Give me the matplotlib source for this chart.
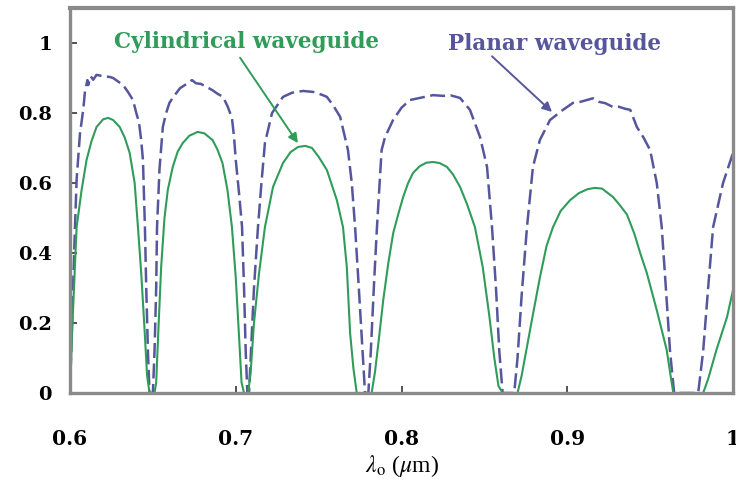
import matplotlib
matplotlib.use("Agg")
import matplotlib.pyplot as plt

# Cylindrical waveguide transmission vs wavelength
cyl_wl = [0.600, 0.6015, 0.604, 0.607, 0.610, 0.613, 0.616, 0.620, 0.623, 0.626,
          0.630, 0.633, 0.636, 0.639, 0.641, 0.643, 0.645, 0.6465, 0.648, 0.651,
          0.652, 0.6535, 0.655, 0.657, 0.659, 0.662, 0.665, 0.668, 0.672, 0.677,
          0.681, 0.686, 0.689, 0.692, 0.695, 0.6977, 0.700, 0.702, 0.7035, 0.705,
          0.7075, 0.709, 0.711, 0.714, 0.7176, 0.7225, 0.7285, 0.733, 0.7376, 0.742,
          0.746, 0.750, 0.755, 0.761, 0.7647, 0.767, 0.769, 0.771, 0.773, 0.782,
          0.784, 0.786, 0.789, 0.792, 0.795, 0.798, 0.801, 0.804, 0.807, 0.811,
          0.815, 0.819, 0.823, 0.8274, 0.831, 0.8353, 0.8395, 0.8443, 0.849, 0.853,
          0.856, 0.8585, 0.861, 0.870, 0.8725, 0.876, 0.879, 0.8835, 0.8875, 0.8914,
          0.896, 0.9017, 0.907, 0.912, 0.9165, 0.921, 0.9276, 0.932, 0.936, 0.9405,
          0.944, 0.948, 0.951, 0.954, 0.957, 0.960, 0.962, 0.964, 0.982, 0.985,
          0.990, 0.9964, 1.000]
cyl_t = [0.00, 0.20, 0.474, 0.58, 0.666, 0.72, 0.76, 0.782, 0.786, 0.78,
         0.76, 0.73, 0.686, 0.60, 0.474, 0.34, 0.18, 0.05, 0.00, 0.00,
         0.03, 0.20, 0.36, 0.50, 0.58, 0.646, 0.69, 0.714, 0.735, 0.746,
         0.742, 0.723, 0.695, 0.657, 0.58, 0.474, 0.33, 0.16, 0.03, 0.00,
         0.00, 0.06, 0.20, 0.34, 0.474, 0.589, 0.657, 0.688, 0.703, 0.706,
         0.700, 0.675, 0.637, 0.551, 0.474, 0.36, 0.171, 0.07, 0.00, 0.00,
         0.06, 0.14, 0.266, 0.37, 0.457, 0.51, 0.56, 0.60, 0.629, 0.648,
         0.658, 0.660, 0.657, 0.646, 0.625, 0.589, 0.54, 0.474, 0.36, 0.22,
         0.10, 0.02, 0.00, 0.00, 0.05, 0.14, 0.217, 0.33, 0.42, 0.474,
         0.52, 0.551, 0.571, 0.582, 0.586, 0.584, 0.56, 0.535, 0.51, 0.455,
         0.40, 0.343, 0.29, 0.237, 0.18, 0.123, 0.06, 0.00, 0.00, 0.04,
         0.123, 0.217, 0.294]

# Planar waveguide transmission vs wavelength
pla_wl = [0.600, 0.6015, 0.603, 0.604, 0.606, 0.608, 0.609, 0.6105, 0.611, 0.6125,
          0.614, 0.616, 0.620, 0.624, 0.626, 0.629, 0.632, 0.635, 0.638, 0.640,
          0.6416, 0.643, 0.644, 0.6452, 0.646, 0.647, 0.648, 0.650, 0.651, 0.652,
          0.6525, 0.654, 0.656, 0.658, 0.660, 0.663, 0.6664, 0.670, 0.6736, 0.676,
          0.679, 0.6826, 0.686, 0.689, 0.6923, 0.695, 0.6977, 0.699, 0.700, 0.702,
          0.7038, 0.705, 0.706, 0.707, 0.708, 0.709, 0.711, 0.7134, 0.7155, 0.7176,
          0.7219, 0.7285, 0.734, 0.7406, 0.747, 0.752, 0.755, 0.759, 0.763, 0.7677,
          0.770, 0.772, 0.774, 0.7765, 0.778, 0.780, 0.7815, 0.7835, 0.7852, 0.788,
          0.790, 0.7949, 0.800, 0.805, 0.8112, 0.815, 0.819, 0.825, 0.830, 0.8353,
          0.8413, 0.8474, 0.8516, 0.8546, 0.857, 0.859, 0.861, 0.868, 0.870, 0.8725,
          0.8757, 0.8793, 0.8835, 0.8896, 0.8974, 0.9035, 0.908, 0.9125, 0.9155, 0.919,
          0.923, 0.9276, 0.931, 0.935, 0.938, 0.942, 0.946, 0.950, 0.954, 0.957,
          0.9595, 0.962, 0.9645, 0.979, 0.982, 0.985, 0.988, 0.994, 1.000]
pla_t = [0.00, 0.25, 0.474, 0.61, 0.74, 0.81, 0.86, 0.894, 0.88, 0.905,
         0.895, 0.909, 0.905, 0.903, 0.90, 0.89, 0.88, 0.86, 0.837, 0.80,
         0.774, 0.72, 0.666, 0.474, 0.30, 0.12, 0.00, 0.00, 0.12, 0.30,
         0.474, 0.64, 0.76, 0.80, 0.829, 0.85, 0.871, 0.882, 0.894, 0.885,
         0.883, 0.874, 0.865, 0.855, 0.846, 0.82, 0.786, 0.73, 0.666, 0.57,
         0.474, 0.30, 0.12, 0.00, 0.00, 0.10, 0.30, 0.474, 0.60, 0.714,
         0.80, 0.846, 0.858, 0.863, 0.86, 0.852, 0.846, 0.82, 0.789, 0.694,
         0.60, 0.474, 0.32, 0.12, 0.00, 0.00, 0.12, 0.32, 0.474, 0.694,
         0.73, 0.78, 0.815, 0.837, 0.843, 0.847, 0.851, 0.849, 0.85, 0.843,
         0.809, 0.731, 0.646, 0.474, 0.30, 0.12, 0.00, 0.00, 0.10, 0.28,
         0.474, 0.646, 0.723, 0.78, 0.809, 0.829, 0.832, 0.838, 0.842, 0.832,
         0.828, 0.817, 0.818, 0.812, 0.809, 0.76, 0.73, 0.694, 0.60, 0.474,
         0.30, 0.12, 0.00, 0.00, 0.12, 0.30, 0.474, 0.60, 0.686]

x_ticks = [0.6, 0.7, 0.8, 0.9, 1.0]
x_tick_labels = ["0.6", "0.7", "0.8", "0.9", "1"]
y_ticks = [0.0, 0.2, 0.4, 0.6, 0.8, 1.0]
y_tick_labels = ["0", "0.2", "0.4", "0.6", "0.8", "1"]

GREEN = "#2f9c5a"
BLUE = "#56569c"
FRAME = "#8a8a8a"

plt.rcParams["font.family"] = ["DejaVu Serif"]
plt.rcParams["mathtext.fontset"] = "stix"

fig = plt.figure(figsize=(7.36, 4.95), dpi=100)
ax = fig.add_axes([70 / 736, 102 / 495, 663 / 736, 385 / 495])

ax.plot(pla_wl, pla_t, color=BLUE, lw=1.8, dashes=(6, 2.2), solid_capstyle="butt")
ax.plot(cyl_wl, cyl_t, color=GREEN, lw=1.5)

ax.set_xlim(0.6, 1.0)
ax.set_ylim(0.0, 1.1)

ax.set_xticks(x_ticks)
ax.set_xticklabels(x_tick_labels)
ax.set_yticks(y_ticks)
ax.set_yticklabels(y_tick_labels)
ax.tick_params(axis="both", direction="in", length=5, width=1.2, color="#333333")
ax.tick_params(axis="x", pad=26, labelsize=14.5)
ax.tick_params(axis="y", pad=13, labelsize=14)
for lab in ax.get_xticklabels() + ax.get_yticklabels():
    lab.set_fontweight("bold")

for side in ["left", "bottom", "right", "top"]:
    ax.spines[side].set_color(FRAME)
    ax.spines[side].set_linewidth(2.4)
ax.spines["top"].set_linewidth(3.0)

ax.set_xlabel(r"$\lambda_{\mathrm{o}}$ ($\mu$m)", fontsize=17, labelpad=3,
              family="Liberation Serif")

# Series labels with pointer arrows
ax.text(0.7062, 1.003, "Cylindrical waveguide", color=GREEN, fontsize=15.5,
        fontweight="bold", ha="center", va="center")
ax.annotate("", xy=(0.7375, 0.714), xytext=(0.7026, 0.958),
            arrowprops=dict(arrowstyle="-|>", color=GREEN, lw=1.4,
                            mutation_scale=14, shrinkA=0, shrinkB=0))
ax.text(0.8926, 0.997, "Planar waveguide", color=BLUE, fontsize=15.5,
        fontweight="bold", ha="center", va="center")
ax.annotate("", xy=(0.8908, 0.803), xytext=(0.8546, 0.962),
            arrowprops=dict(arrowstyle="-|>", color=BLUE, lw=1.4,
                            mutation_scale=14, shrinkA=0, shrinkB=0))

fig.savefig("out.png", dpi=100)
